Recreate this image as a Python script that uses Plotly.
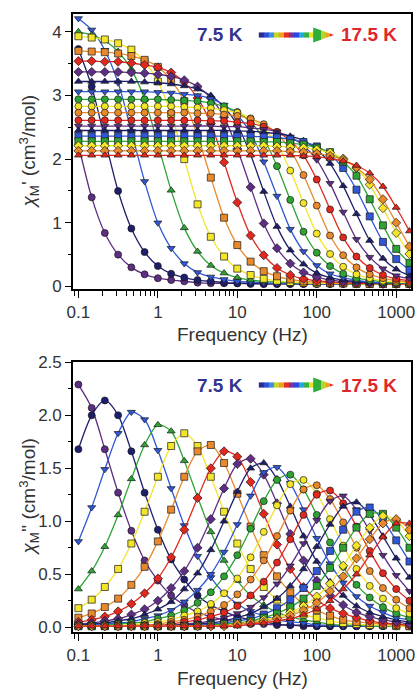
import plotly.graph_objects as go

# ---- measurement grid -------------------------------------------------------
freq_hz = [0.1, 0.147, 0.215, 0.316, 0.464, 0.681, 1.0, 1.47, 2.15, 3.16, 4.64, 6.81,
           10.0, 14.7, 21.5, 31.6, 46.4, 68.1, 100.0, 147.0, 215.0, 316.0, 464.0, 681.0,
           1000.0, 1468.0]

temps_k = [7.5, 8.0, 8.5, 9.0, 9.5, 10.0, 10.5, 11.0, 11.5, 12.0, 12.5, 13.0, 13.5,
           14.0, 14.5, 15.0, 15.5, 16.0, 16.5, 17.0, 17.5]

# ---- in-phase susceptibility chi_M' (cm3/mol), one row per temperature ------
chi_in = [
    [2.23, 1.40, 0.84, 0.50, 0.30, 0.19, 0.13, 0.10, 0.08, 0.06, 0.05, 0.05, 0.05, 0.04, 0.04, 0.04, 0.04, 0.04, 0.04, 0.04, 0.04, 0.04, 0.04, 0.04, 0.04, 0.04],
    [3.73, 3.14, 2.32, 1.50, 0.91, 0.54, 0.32, 0.20, 0.14, 0.10, 0.08, 0.06, 0.05, 0.05, 0.04, 0.04, 0.04, 0.04, 0.04, 0.04, 0.04, 0.04, 0.04, 0.04, 0.04, 0.04],
    [4.21, 4.03, 3.71, 3.20, 2.44, 1.65, 1.00, 0.60, 0.36, 0.22, 0.15, 0.11, 0.08, 0.07, 0.06, 0.05, 0.05, 0.05, 0.04, 0.04, 0.04, 0.04, 0.04, 0.04, 0.04, 0.04],
    [4.00, 3.95, 3.86, 3.69, 3.41, 2.94, 2.24, 1.51, 0.92, 0.55, 0.33, 0.21, 0.14, 0.10, 0.08, 0.07, 0.06, 0.05, 0.05, 0.05, 0.04, 0.04, 0.04, 0.04, 0.04, 0.04],
    [3.93, 3.91, 3.88, 3.82, 3.72, 3.53, 3.22, 2.71, 2.00, 1.29, 0.78, 0.47, 0.28, 0.18, 0.12, 0.09, 0.07, 0.06, 0.05, 0.05, 0.05, 0.04, 0.04, 0.04, 0.04, 0.04],
    [3.70, 3.69, 3.68, 3.66, 3.62, 3.56, 3.45, 3.24, 2.91, 2.37, 1.71, 1.08, 0.65, 0.39, 0.24, 0.16, 0.11, 0.08, 0.07, 0.06, 0.05, 0.05, 0.04, 0.04, 0.04, 0.04],
    [3.54, 3.54, 3.53, 3.53, 3.51, 3.48, 3.44, 3.36, 3.21, 2.96, 2.56, 1.95, 1.32, 0.80, 0.49, 0.29, 0.18, 0.12, 0.09, 0.07, 0.06, 0.05, 0.05, 0.04, 0.04, 0.04],
    [3.37, 3.37, 3.37, 3.37, 3.36, 3.35, 3.33, 3.30, 3.24, 3.14, 2.96, 2.66, 2.16, 1.56, 0.99, 0.60, 0.36, 0.22, 0.15, 0.10, 0.08, 0.07, 0.06, 0.05, 0.05, 0.05],
    [3.22, 3.22, 3.22, 3.22, 3.22, 3.21, 3.20, 3.18, 3.15, 3.10, 3.00, 2.82, 2.54, 2.07, 1.49, 0.94, 0.57, 0.35, 0.21, 0.14, 0.10, 0.08, 0.06, 0.06, 0.05, 0.05],
    [3.06, 3.06, 3.06, 3.06, 3.06, 3.06, 3.05, 3.04, 3.02, 3.00, 2.95, 2.85, 2.69, 2.41, 1.96, 1.42, 0.90, 0.55, 0.33, 0.20, 0.14, 0.10, 0.07, 0.06, 0.06, 0.05],
    [2.94, 2.94, 2.94, 2.94, 2.94, 2.94, 2.94, 2.93, 2.92, 2.91, 2.88, 2.83, 2.74, 2.58, 2.32, 1.89, 1.36, 0.86, 0.53, 0.32, 0.20, 0.13, 0.10, 0.07, 0.06, 0.06],
    [2.83, 2.83, 2.83, 2.83, 2.83, 2.83, 2.83, 2.83, 2.82, 2.81, 2.80, 2.77, 2.73, 2.64, 2.48, 2.23, 1.82, 1.31, 0.83, 0.51, 0.31, 0.19, 0.13, 0.09, 0.07, 0.06],
    [2.73, 2.73, 2.73, 2.73, 2.73, 2.73, 2.73, 2.73, 2.73, 2.72, 2.72, 2.70, 2.68, 2.63, 2.55, 2.40, 2.15, 1.75, 1.27, 0.80, 0.49, 0.30, 0.19, 0.13, 0.09, 0.07],
    [2.61, 2.61, 2.61, 2.61, 2.61, 2.61, 2.61, 2.61, 2.61, 2.61, 2.60, 2.60, 2.58, 2.56, 2.51, 2.43, 2.29, 2.06, 1.68, 1.21, 0.77, 0.47, 0.29, 0.18, 0.12, 0.09],
    [2.52, 2.52, 2.52, 2.52, 2.52, 2.52, 2.52, 2.52, 2.52, 2.52, 2.52, 2.51, 2.51, 2.49, 2.47, 2.43, 2.35, 2.21, 1.99, 1.62, 1.17, 0.74, 0.46, 0.28, 0.17, 0.12],
    [2.45, 2.45, 2.45, 2.45, 2.45, 2.45, 2.45, 2.45, 2.45, 2.45, 2.45, 2.45, 2.44, 2.44, 2.42, 2.40, 2.36, 2.29, 2.15, 1.93, 1.58, 1.14, 0.72, 0.44, 0.27, 0.17],
    [2.36, 2.36, 2.36, 2.36, 2.36, 2.36, 2.36, 2.36, 2.36, 2.36, 2.36, 2.36, 2.36, 2.36, 2.35, 2.34, 2.31, 2.27, 2.20, 2.07, 1.86, 1.52, 1.10, 0.70, 0.43, 0.26],
    [2.28, 2.28, 2.28, 2.28, 2.28, 2.28, 2.28, 2.28, 2.28, 2.28, 2.28, 2.28, 2.28, 2.28, 2.27, 2.27, 2.25, 2.23, 2.18, 2.11, 1.96, 1.74, 1.37, 0.96, 0.59, 0.37],
    [2.21, 2.21, 2.21, 2.21, 2.21, 2.21, 2.21, 2.21, 2.21, 2.21, 2.21, 2.21, 2.21, 2.21, 2.21, 2.20, 2.19, 2.18, 2.15, 2.10, 2.01, 1.86, 1.60, 1.23, 0.84, 0.51],
    [2.13, 2.13, 2.13, 2.13, 2.13, 2.13, 2.13, 2.13, 2.13, 2.13, 2.13, 2.13, 2.13, 2.13, 2.13, 2.13, 2.12, 2.11, 2.09, 2.05, 1.99, 1.87, 1.68, 1.37, 1.00, 0.63],
    [2.06, 2.06, 2.06, 2.06, 2.06, 2.06, 2.06, 2.06, 2.06, 2.06, 2.06, 2.06, 2.06, 2.06, 2.06, 2.06, 2.06, 2.05, 2.04, 2.01, 1.97, 1.90, 1.78, 1.57, 1.24, 0.87],
]

# ---- out-of-phase susceptibility chi_M'' (cm3/mol) --------------------------
chi_out = [
    [2.29, 2.07, 1.68, 1.27, 0.91, 0.63, 0.44, 0.30, 0.21, 0.14, 0.10, 0.07, 0.05, 0.03, 0.03, 0.02, 0.02, 0.01, 0.01, 0.01, 0.01, 0.01, 0.01, 0.01, 0.01, 0.01],
    [1.68, 2.00, 2.14, 2.00, 1.66, 1.27, 0.92, 0.64, 0.45, 0.30, 0.21, 0.15, 0.10, 0.07, 0.05, 0.03, 0.02, 0.02, 0.01, 0.01, 0.01, 0.01, 0.01, 0.01, 0.01, 0.01],
    [0.81, 1.13, 1.49, 1.83, 2.03, 1.96, 1.67, 1.31, 0.96, 0.67, 0.47, 0.32, 0.22, 0.15, 0.11, 0.07, 0.05, 0.04, 0.02, 0.02, 0.01, 0.01, 0.01, 0.01, 0.01, 0.01],
    [0.36, 0.53, 0.76, 1.06, 1.40, 1.72, 1.91, 1.85, 1.57, 1.23, 0.90, 0.63, 0.44, 0.30, 0.21, 0.14, 0.10, 0.07, 0.05, 0.03, 0.02, 0.02, 0.01, 0.01, 0.01, 0.01],
    [0.18, 0.26, 0.38, 0.55, 0.79, 1.09, 1.42, 1.71, 1.83, 1.71, 1.42, 1.09, 0.79, 0.55, 0.38, 0.26, 0.18, 0.12, 0.09, 0.06, 0.04, 0.03, 0.02, 0.02, 0.01, 0.01],
    [0.09, 0.13, 0.19, 0.27, 0.40, 0.57, 0.81, 1.11, 1.42, 1.66, 1.72, 1.55, 1.26, 0.95, 0.68, 0.48, 0.33, 0.22, 0.16, 0.11, 0.07, 0.05, 0.04, 0.03, 0.02, 0.01],
    [0.05, 0.07, 0.10, 0.15, 0.22, 0.32, 0.46, 0.66, 0.92, 1.22, 1.50, 1.66, 1.61, 1.37, 1.07, 0.78, 0.55, 0.38, 0.26, 0.18, 0.13, 0.09, 0.06, 0.04, 0.03, 0.02],
    [0.03, 0.04, 0.06, 0.08, 0.12, 0.17, 0.25, 0.37, 0.53, 0.75, 1.02, 1.31, 1.54, 1.59, 1.44, 1.17, 0.88, 0.63, 0.44, 0.30, 0.21, 0.14, 0.10, 0.07, 0.05, 0.03],
    [0.02, 0.03, 0.04, 0.06, 0.08, 0.12, 0.17, 0.24, 0.36, 0.51, 0.73, 1.00, 1.28, 1.50, 1.55, 1.40, 1.14, 0.86, 0.62, 0.43, 0.30, 0.20, 0.14, 0.10, 0.07, 0.05],
    [0.01, 0.02, 0.03, 0.04, 0.05, 0.08, 0.11, 0.16, 0.24, 0.35, 0.50, 0.71, 0.97, 1.24, 1.46, 1.51, 1.36, 1.11, 0.84, 0.60, 0.42, 0.29, 0.20, 0.14, 0.09, 0.07],
    [0.01, 0.01, 0.02, 0.03, 0.04, 0.05, 0.08, 0.11, 0.16, 0.23, 0.33, 0.48, 0.68, 0.93, 1.19, 1.39, 1.44, 1.30, 1.06, 0.80, 0.57, 0.40, 0.28, 0.19, 0.13, 0.09],
    [0.01, 0.01, 0.01, 0.02, 0.02, 0.04, 0.05, 0.07, 0.11, 0.15, 0.22, 0.32, 0.46, 0.66, 0.90, 1.15, 1.35, 1.39, 1.26, 1.02, 0.77, 0.55, 0.39, 0.27, 0.18, 0.13],
    [0.01, 0.01, 0.01, 0.01, 0.02, 0.02, 0.03, 0.05, 0.07, 0.10, 0.15, 0.21, 0.31, 0.45, 0.63, 0.86, 1.10, 1.30, 1.34, 1.21, 0.99, 0.75, 0.53, 0.37, 0.26, 0.18],
    [0.01, 0.01, 0.01, 0.01, 0.01, 0.02, 0.02, 0.03, 0.05, 0.07, 0.10, 0.14, 0.20, 0.30, 0.43, 0.61, 0.83, 1.06, 1.25, 1.29, 1.17, 0.95, 0.72, 0.51, 0.36, 0.25],
    [0.01, 0.01, 0.01, 0.01, 0.01, 0.01, 0.01, 0.02, 0.03, 0.04, 0.06, 0.09, 0.13, 0.19, 0.28, 0.41, 0.58, 0.79, 1.01, 1.19, 1.24, 1.11, 0.91, 0.68, 0.49, 0.34],
    [0.01, 0.01, 0.01, 0.01, 0.01, 0.01, 0.01, 0.01, 0.02, 0.03, 0.04, 0.06, 0.09, 0.13, 0.19, 0.27, 0.39, 0.55, 0.76, 0.97, 1.14, 1.18, 1.06, 0.86, 0.65, 0.47],
    [0.01, 0.01, 0.01, 0.01, 0.01, 0.01, 0.01, 0.01, 0.01, 0.02, 0.03, 0.04, 0.06, 0.08, 0.12, 0.18, 0.26, 0.37, 0.53, 0.72, 0.92, 1.09, 1.13, 1.01, 0.82, 0.62],
    [0.01, 0.01, 0.01, 0.01, 0.01, 0.01, 0.01, 0.01, 0.01, 0.01, 0.02, 0.03, 0.04, 0.06, 0.09, 0.13, 0.19, 0.27, 0.39, 0.56, 0.75, 0.94, 1.07, 1.07, 0.94, 0.75],
    [0.01, 0.01, 0.01, 0.01, 0.01, 0.01, 0.01, 0.01, 0.01, 0.01, 0.01, 0.02, 0.03, 0.05, 0.07, 0.09, 0.14, 0.20, 0.29, 0.41, 0.58, 0.77, 0.94, 1.05, 1.01, 0.86],
    [0.01, 0.01, 0.01, 0.01, 0.01, 0.01, 0.01, 0.01, 0.01, 0.01, 0.01, 0.01, 0.03, 0.04, 0.05, 0.08, 0.11, 0.16, 0.23, 0.34, 0.48, 0.65, 0.83, 0.98, 1.02, 0.92],
    [0.01, 0.01, 0.01, 0.01, 0.01, 0.01, 0.01, 0.01, 0.01, 0.01, 0.01, 0.01, 0.01, 0.03, 0.04, 0.06, 0.08, 0.12, 0.17, 0.25, 0.36, 0.50, 0.68, 0.85, 0.98, 0.98],
]

# ---- styling: colour cycles through a 7-step rainbow, marker shape per curve --
palette = ["#5e2d84", "#1e1e6e", "#2f57d6", "#2ea334", "#f2e52a", "#e88a2c", "#e2281e"]
symbols = ["circle", "circle", "triangle-down", "triangle-up", "square", "square", "diamond",
           "diamond", "triangle-up", "triangle-down", "circle", "circle", "circle", "circle",
           "triangle-down", "triangle-up", "square", "square", "diamond", "diamond", "triangle-up"]

FONT = "Liberation Sans, Arial, sans-serif"
W, H = 416, 691
ML, MR, MT, MB = 73, 1, 14, 59


def px_x(px):
    return (px - ML) / (W - ML - MR)


def px_y(py):
    return (H - MB - py) / (H - MT - MB)


fig = go.Figure()

for i, t in enumerate(temps_k):
    col = palette[i % len(palette)]
    common = dict(
        x=freq_hz,
        mode="lines+markers",
        line=dict(color=col, width=1.3, shape="spline", smoothing=0.8),
        marker=dict(symbol=symbols[i], color=col, size=7,
                    line=dict(color="#1a1a1a", width=0.7)),
        name=f"{t} K",
        showlegend=False,
    )
    fig.add_trace(go.Scatter(y=chi_in[i], xaxis="x", yaxis="y", **common))
    fig.add_trace(go.Scatter(y=chi_out[i], xaxis="x2", yaxis="y2", **common))

minor_x = [m * 10.0 ** e for e in range(-2, 4) for m in range(2, 10)]

xcommon = dict(
    type="log", range=[-1.068, 3.186],
    tickmode="array", tickvals=[0.1, 1, 10, 100, 1000],
    ticktext=["0.1", "1", "10", "100", "1000"],
    ticks="outside", ticklen=7, tickwidth=1.2, tickcolor="black",
    minor=dict(tickmode="array", tickvals=minor_x, ticks="outside", ticklen=5,
               tickwidth=1, tickcolor="black", showgrid=False),
    showline=True, linecolor="black", linewidth=1.6, mirror=True,
    showgrid=False, zeroline=False, ticklabeloverflow="allow",
    tickfont=dict(family=FONT, size=17, color="#333333"),
)
ycommon = dict(
    ticks="outside", ticklen=6, tickwidth=1.2, tickcolor="black",
    showline=True, linecolor="black", linewidth=1.6, mirror=True,
    showgrid=False, zeroline=False,
    tickfont=dict(family=FONT, size=17, color="#333333"),
)

y_top_lo = px_y(289)
y_bot_hi = px_y(362)

fig.update_layout(
    width=W, height=H,
    margin=dict(l=ML, r=MR, t=MT, b=MB),
    paper_bgcolor="white", plot_bgcolor="white",
    xaxis=dict(domain=[0, 1], anchor="y", **xcommon),
    xaxis2=dict(domain=[0, 1], anchor="y2", **xcommon),
    yaxis=dict(domain=[y_top_lo, 1], anchor="x", range=[-0.04, 4.28],
               tickmode="linear", tick0=0, dtick=1,
               minor=dict(dtick=0.5, ticks="outside", ticklen=3, tickwidth=1,
                          tickcolor="black", showgrid=False),
               **ycommon),
    yaxis2=dict(domain=[0, y_bot_hi], anchor="x2", range=[-0.045, 2.503],
                tickmode="linear", tick0=0, dtick=0.5, tickformat=".1f",
                minor=dict(dtick=0.25, ticks="outside", ticklen=3, tickwidth=1,
                           tickcolor="black", showgrid=False),
                **ycommon),
)

title_font = dict(family=FONT, size=19, color="#333333")
annotations = [
    dict(text="Frequency (Hz)", x=px_x(244), y=px_y(334), xref="paper", yref="paper",
         showarrow=False, font=title_font, xanchor="center", yanchor="middle"),
    dict(text="Frequency (Hz)", x=px_x(244), y=px_y(678), xref="paper", yref="paper",
         showarrow=False, font=title_font, xanchor="center", yanchor="middle"),
    dict(text="<i>χ</i><sub>M</sub>' (cm<sup>3</sup>/mol)", x=px_x(28), y=px_y(152),
         xref="paper", yref="paper", showarrow=False, textangle=-90, font=title_font,
         xanchor="center", yanchor="middle"),
    dict(text="<i>χ</i><sub>M</sub>'' (cm<sup>3</sup>/mol)", x=px_x(28), y=px_y(497),
         xref="paper", yref="paper", showarrow=False, textangle=-90, font=title_font,
         xanchor="center", yanchor="middle"),
]

shapes = []
bar_colors = ["#2b2b8c", "#2d4fd8", "#3a8fe0", "#c8d62c", "#f0a020", "#e23020",
              "#7a2fa0", "#2a48dc", "#20a8d8", "#34b040", "#e8e020"]
head_parts = [(316, 324, "#2fae3c"), (324, 329, "#b8d428"), (329, 333, "#f0a020"),
              (333, 337, "#e2281e")]

for cy in (35, 385):
    annotations.append(dict(text="<b>7.5 K</b>", x=px_x(222), y=px_y(cy), xref="paper",
                            yref="paper", showarrow=False, xanchor="center",
                            yanchor="middle",
                            font=dict(family=FONT, size=19, color="#34348f")))
    annotations.append(dict(text="<b>17.5 K</b>", x=px_x(372), y=px_y(cy), xref="paper",
                            yref="paper", showarrow=False, xanchor="center",
                            yanchor="middle",
                            font=dict(family=FONT, size=19, color="#e0262a")))
    # rainbow shaft
    x0, x1 = 261.0, 317.0
    step = (x1 - x0) / len(bar_colors)
    for k, c in enumerate(bar_colors):
        shapes.append(dict(type="rect", xref="paper", yref="paper",
                           x0=px_x(x0 + k * step), x1=px_x(x0 + (k + 1) * step + 0.4),
                           y0=px_y(cy + 2.6), y1=px_y(cy - 2.6),
                           fillcolor=c, line=dict(width=0)))
    # arrow head, split into coloured slices
    hx0, hx1, hh = 316.0, 337.0, 7.5
    for a, b, c in head_parts:
        ha = hh * (hx1 - a) / (hx1 - hx0)
        hb = hh * (hx1 - b) / (hx1 - hx0)
        path = (f"M {px_x(a)} {px_y(cy - ha)} L {px_x(b)} {px_y(cy - hb)} "
                f"L {px_x(b)} {px_y(cy + hb)} L {px_x(a)} {px_y(cy + ha)} Z")
        shapes.append(dict(type="path", xref="paper", yref="paper", path=path,
                           fillcolor=c, line=dict(width=0)))

fig.update_layout(annotations=annotations, shapes=shapes)

fig.write_html("out.html")
